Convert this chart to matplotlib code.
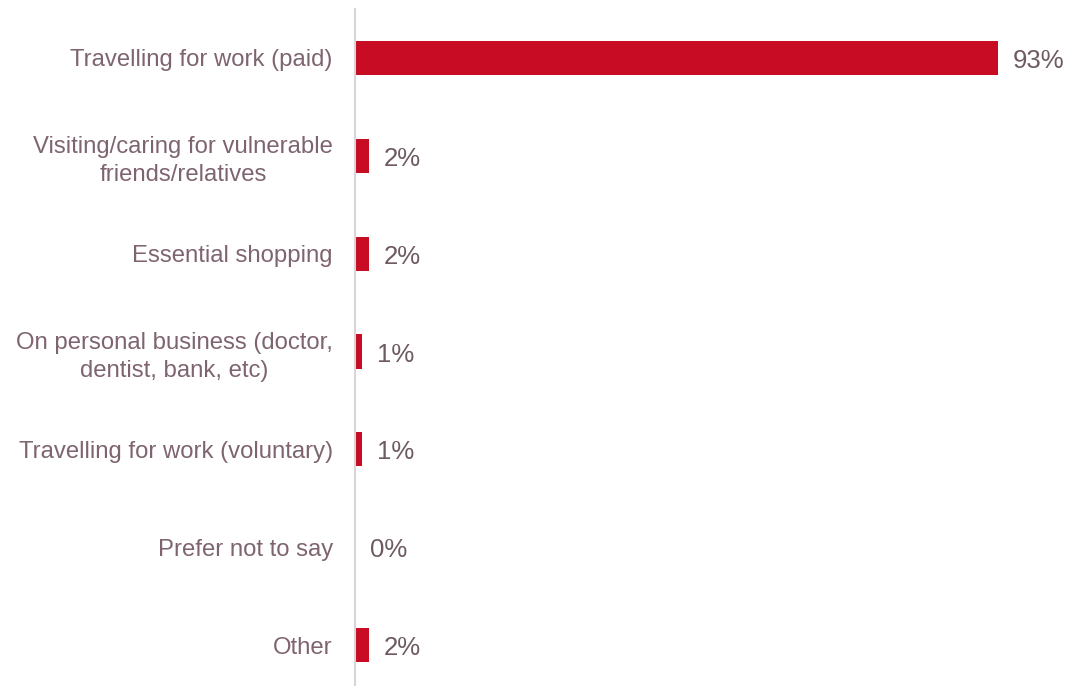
import matplotlib.pyplot as plt

plt.rcParams['font.family'] = ['Liberation Sans', 'DejaVu Sans']

reasons = ["Travelling for work (paid)",
           "Visiting/caring for vulnerable\nfriends/relatives",
           "Essential shopping",
           "On personal business (doctor,\ndentist, bank, etc)",
           "Travelling for work (voluntary)",
           "Prefer not to say",
           "Other"]
share = [93, 2, 2, 1, 1, 0, 2]

bar_red = '#C80C24'
label_col = '#7E6470'
value_col = '#6E5A63'

fig = plt.figure(figsize=(10.69, 6.86), dpi=100)
ax = fig.add_axes([355 / 1069, -8 / 686, 714 / 1069, 685 / 686])

ypos = list(range(len(reasons)))
ax.barh(ypos, share, height=0.35, color=bar_red)

# percentage text just past the end of each bar
for y, v in zip(ypos, share):
    ax.annotate(f"{v}%", xy=(v, y), xytext=(15, -3), textcoords='offset pixels',
                va='center', ha='left', fontsize=18.5, color=value_col)

ax.set_yticks(ypos)
ax.set_yticklabels(reasons, fontsize=17.2, color=label_col, linespacing=1.33,
                   multialignment='center')
ax.tick_params(axis='y', length=0, pad=16)
ax.set_xticks([])
ax.set_ylim(len(reasons) - 0.5, -0.5)
ax.set_xlim(0, 714 / 6.914)

for s in ['top', 'right', 'bottom']:
    ax.spines[s].set_visible(False)
ax.spines['left'].set_color('#D9D4D6')
ax.spines['left'].set_linewidth(1.5)

fig.savefig('out.png', dpi=100)
